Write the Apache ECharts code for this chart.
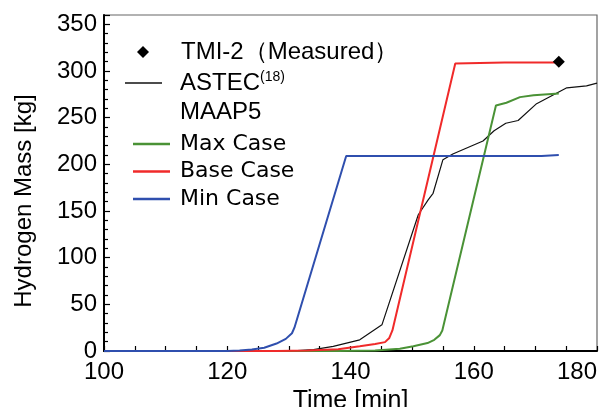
<!DOCTYPE html>
<html>
<head>
<meta charset="utf-8">
<script src="https://cdn.jsdelivr.net/npm/echarts@6/dist/echarts.min.js"></script>
<style>
  html, body { margin: 0; padding: 0; background: #fff; }
  #chart { width: 600px; height: 407px; }
</style>
</head>
<body>
<div id="chart"></div>
<script>
// Hydrogen mass generated vs. time: measured value, ASTEC and three MAAP5 cases
const xTicks = [100, 120, 140, 160, 180];
const yTicks = [0, 50, 100, 150, 200, 250, 300, 350];

const tmiTime = [173.8];
const tmiMass = [310];

const astecTime = [100, 130, 134, 137.2, 141.5, 145.1, 151, 152.6, 153.4, 155, 156.6, 161.5, 163.3, 165.2, 167.2, 170.2, 175.1, 178.3, 180];
const astecMass = [0, 0, 1.5, 5, 12, 28, 146, 162, 169, 205, 211, 225, 236, 244, 247, 265, 282, 284, 287];

const maxTime = [100, 138, 144, 148, 150.2, 152.5, 153.6, 154.5, 154.9, 163.6, 165.3, 167.5, 169.7, 173.8];
const maxMass = [0, 0, 0.5, 2.5, 5, 8.5, 12, 17, 22, 263, 266, 272, 274, 276];

const baseTime = [100, 128, 133, 138, 141.5, 144, 145.6, 146.3, 146.8, 157, 165, 173.7];
const baseMass = [0, 0, 0.5, 2, 5, 7.5, 9.5, 14, 22, 308, 309, 309];

const minTime = [100, 120, 122, 124, 126, 128, 129.5, 130.5, 130.9, 139.3, 150, 165, 171, 173.8];
const minMass = [0, 0, 0.5, 1.5, 3.5, 8, 13, 19, 25, 209, 209, 209, 209, 210];

const zip = (ts, vs) => ts.map((t, i) => [t, vs[i]]);

const chart = echarts.init(document.getElementById('chart'));

const arial = 'Arial, "Liberation Sans", sans-serif';
const dejavu = '"DejaVu Sans", sans-serif';

const BLACK = '#111111';
const GREEN = '#4a9236';
const RED = '#f02a2a';
const BLUE = '#2f4fae';

chart.setOption({
  animation: false,
  backgroundColor: '#ffffff',
  grid: {
    left: 104, right: 3, top: 15, bottom: 56,
    containLabel: false,
    outerBoundsMode: 'none',
    show: true, borderColor: '#666', borderWidth: 1.2
  },
  xAxis: {
    type: 'value',
    min: xTicks[0], max: xTicks[xTicks.length - 1], interval: 20,
    name: 'Time [min]',
    nameLocation: 'middle',
    nameGap: 31,
    nameTextStyle: { fontFamily: arial, fontSize: 25, color: '#000' },
    axisLine: { show: true, onZero: false, lineStyle: { color: '#000', width: 2 } },
    axisTick: { show: true, inside: true, length: 5, lineStyle: { color: '#000', width: 1.2 } },
    minorTick: { show: true, splitNumber: 4, length: 5, lineStyle: { color: '#000', width: 1.2 } },
    axisLabel: { fontFamily: arial, fontSize: 24, color: '#000', margin: 9, alignMaxLabel: 'right' },
    splitLine: { show: false }
  },
  yAxis: {
    type: 'value',
    min: 0, max: 360, interval: 50,
    axisLine: { show: true, onZero: false, lineStyle: { color: '#000', width: 2 } },
    axisTick: { show: true, inside: true, length: 6, lineStyle: { color: '#000', width: 1.2 } },
    minorTick: { show: true, splitNumber: 5, length: 4, lineStyle: { color: '#000', width: 1.2 } },
    axisLabel: {
      fontFamily: arial, fontSize: 24, color: '#000', margin: 7,
      formatter: v => (yTicks.indexOf(v) >= 0 ? String(v) : '')
    },
    splitLine: { show: false }
  },
  legend: [
    {
      // measured point
      data: [{ name: 'TMI-2（Measured）', icon: 'diamond' }],
      left: 132, top: 35,
      itemWidth: 12, itemHeight: 12,
      formatter: name => '{g|}{t|' + name + '}',
      textStyle: {
        rich: {
          g: { width: 27 },
          t: { fontFamily: arial, fontSize: 24, color: '#000', lineHeight: 26 }
        }
      }
    },
    {
      data: [{ name: 'ASTEC(18)', icon: 'rect' }],
      left: 120, top: 65,
      itemWidth: 37, itemHeight: 1.3,
      formatter: () => '{g|}{t|ASTEC}{s|(18)}',
      textStyle: {
        rich: {
          g: { width: 13 },
          t: { fontFamily: arial, fontSize: 24, color: '#000', lineHeight: 26 },
          s: { fontFamily: arial, fontSize: 14, color: '#000', lineHeight: 14, verticalAlign: 'top' }
        }
      }
    },
    {
      data: [
        { name: 'Max Case', icon: 'rect' },
        { name: 'Base Case', icon: 'rect' },
        { name: 'Min Case', icon: 'rect' }
      ],
      orient: 'vertical',
      left: 128, top: 128,
      itemWidth: 37, itemHeight: 2.4, itemGap: 5.5,
      formatter: name => '{g|}{t|' + name + '}',
      textStyle: {
        rich: {
          g: { width: 5 },
          t: { fontFamily: dejavu, fontSize: 22, color: '#000', lineHeight: 25 }
        }
      }
    }
  ],
  graphic: [
    {
      type: 'text',
      left: 180, top: 100,
      style: { text: 'MAAP5', fontFamily: arial, fontSize: 24, fill: '#000' }
    },
    {
      // vertical axis title
      type: 'text',
      x: 24, y: 201,
      rotation: Math.PI / 2,
      style: {
        text: 'Hydrogen Mass [kg]', fontFamily: arial, fontSize: 24, fill: '#000',
        align: 'center', verticalAlign: 'middle'
      }
    }
  ],
  series: [
    {
      name: 'ASTEC(18)', type: 'line', data: zip(astecTime, astecMass),
      symbol: 'none', lineStyle: { color: BLACK, width: 1.2 }, itemStyle: { color: BLACK }, z: 2
    },
    {
      name: 'Max Case', type: 'line', data: zip(maxTime, maxMass),
      symbol: 'none', lineStyle: { color: GREEN, width: 2 }, itemStyle: { color: GREEN }, z: 3
    },
    {
      name: 'Base Case', type: 'line', data: zip(baseTime, baseMass),
      symbol: 'none', lineStyle: { color: RED, width: 2 }, itemStyle: { color: RED }, z: 4
    },
    {
      name: 'Min Case', type: 'line', data: zip(minTime, minMass),
      symbol: 'none', lineStyle: { color: BLUE, width: 2 }, itemStyle: { color: BLUE }, z: 5
    },
    {
      name: 'TMI-2（Measured）', type: 'scatter', data: zip(tmiTime, tmiMass),
      symbol: 'diamond', symbolSize: 12, itemStyle: { color: '#000', opacity: 1 }, z: 6
    }
  ]
});
</script>
</body>
</html>
